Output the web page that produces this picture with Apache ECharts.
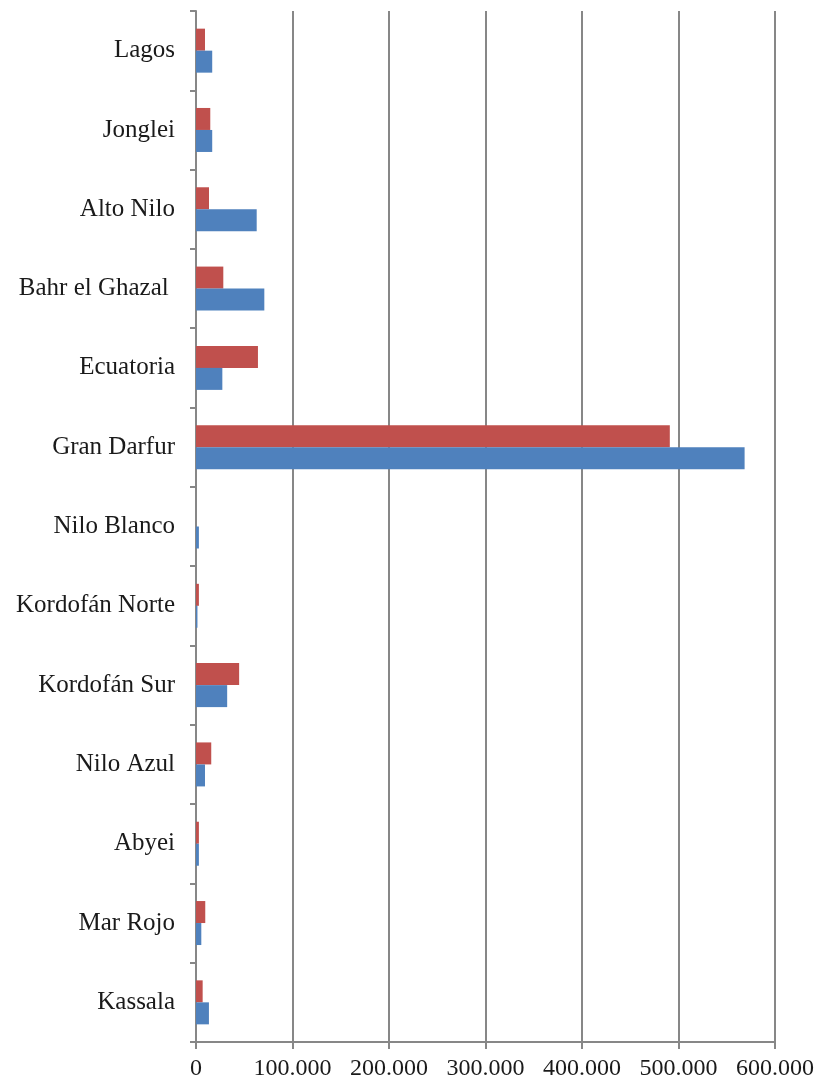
<!DOCTYPE html>
<html>
<head>
<meta charset="utf-8">
<style>
  html, body { margin: 0; padding: 0; background: #ffffff; }
  #chart { width: 820px; height: 1084px; }
</style>
<script src="https://cdn.jsdelivr.net/npm/echarts@6/dist/echarts.min.js"></script>
</head>
<body>
<div id="chart"></div>
<script>
// Regions, listed top to bottom
const regions = [
  'Lagos', 'Jonglei', 'Alto Nilo', 'Bahr el Ghazal ', 'Ecuatoria', 'Gran Darfur',
  'Nilo Blanco', 'Kordofán Norte', 'Kordofán Sur', 'Nilo Azul', 'Abyei', 'Mar Rojo', 'Kassala'
];

// First series (red bars, upper bar of each pair)
const seriesRed = [9300, 14800, 13500, 28300, 64200, 491000, 0, 3000, 44700, 15800, 3000, 9600, 6900];

// Second series (blue bars, lower bar of each pair)
const seriesBlue = [16800, 16800, 62900, 70800, 27300, 568500, 3000, 1500, 32300, 9300, 3000, 5500, 13400];

// Value axis ticks
const valueTicks = [0, 100000, 200000, 300000, 400000, 500000, 600000];

function formatThousands(v) {
  return String(v).replace(/\B(?=(\d{3})+(?!\d))/g, '.');
}

const chart = echarts.init(document.getElementById('chart'), null, { renderer: 'canvas' });

const axisGrey = '#878787';
const font = 'Liberation Serif';

chart.setOption({
  backgroundColor: '#ffffff',
  animation: false,
  grid: { left: 196, right: 45, top: 11, bottom: 42, containLabel: false },
  xAxis: {
    type: 'value',
    min: valueTicks[0],
    max: valueTicks[valueTicks.length - 1],
    interval: valueTicks[1] - valueTicks[0],
    axisLine: { show: true, lineStyle: { color: axisGrey, width: 2 } },
    axisTick: { show: true, length: 7, lineStyle: { color: axisGrey, width: 2 } },
    splitLine: { show: true, lineStyle: { color: axisGrey, width: 2 } },
    axisLabel: {
      margin: 15,
      color: '#1a1a1a',
      fontFamily: font,
      fontSize: 24,
      formatter: formatThousands
    }
  },
  yAxis: {
    type: 'category',
    data: regions,
    inverse: true,
    axisLine: { show: true, lineStyle: { color: axisGrey, width: 2 } },
    axisTick: { show: true, length: 6, lineStyle: { color: axisGrey, width: 2 } },
    splitLine: { show: false },
    axisLabel: {
      margin: 21,
      color: '#1a1a1a',
      fontFamily: font,
      fontSize: 25,
      padding: [3, 0, 0, 0]
    }
  },
  series: [
    {
      name: 'A',
      type: 'bar',
      data: seriesRed,
      barWidth: 22,
      barGap: '0%',
      itemStyle: { color: '#C0504D' }
    },
    {
      name: 'B',
      type: 'bar',
      data: seriesBlue,
      barWidth: 22,
      barGap: '0%',
      itemStyle: { color: '#4F81BD' }
    }
  ]
});
</script>
</body>
</html>
